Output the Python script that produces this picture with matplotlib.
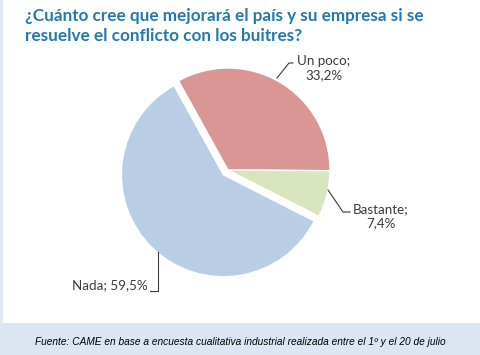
import numpy as np
import matplotlib.pyplot as plt
from matplotlib.patches import Rectangle

# Data
labels = ['Un poco', 'Bastante', 'Nada']
values = [33.2, 7.4, 59.5]
value_text = ['33,2%', '7,4%', '59,5%']
colors = ['#D99694', '#D7E4BD', '#B9CDE5']
explode_frac = [0, 0, 0.065]

title = '¿Cuánto cree que mejorará el país y su empresa si se\nresuelve el conflicto con los buitres?'
source = 'Fuente: CAME en base a encuesta cualitativa industrial realizada entre el 1º y el 20 de julio'

fig = plt.figure(figsize=(4.8, 3.55), dpi=100)
ax = fig.add_axes([0, 0, 1, 1])

# Footer band
ax.add_patch(Rectangle((0, 0), 480, 32, facecolor='#DCE6F2', edgecolor='none', zorder=0))
ax.plot([0.5, 0.5], [32, 355], color='#DCE6F2', lw=2, zorder=0)

# Pie (explode is in data units, so scale by radius)
cx, cy, r = 228, 185, 102
wedges, _ = ax.pie(values, colors=colors, explode=[e * r for e in explode_frac],
                   startangle=119, counterclock=False, radius=r, center=(cx, cy),
                   frame=True, wedgeprops=dict(edgecolor='white', linewidth=1.0))
ax.set_xlim(0, 480)
ax.set_ylim(0, 355)
ax.set_aspect('equal')
ax.axis('off')

label_col = '#3a3a3a'
fs = 9.6
lfont = 'Lato'

# Un poco label
ax.plot([277, 289, 293], [355 - 78, 355 - 63, 355 - 63], color=label_col, lw=0.8)
ax.text(324, 355 - 68, labels[0] + ';\n' + value_text[0], ha='center', va='center',
        fontsize=fs, color=label_col, family=lfont, linespacing=1.15)

# Bastante label
ax.plot([328, 343, 350], [355 - 190, 355 - 212, 355 - 212], color=label_col, lw=0.8)
ax.text(381, 355 - 216, labels[1] + ';\n' + value_text[1], ha='center', va='center',
        fontsize=fs, color=label_col, family=lfont, linespacing=1.15)

# Nada label
ax.plot([158, 158, 150], [355 - 252, 355 - 291, 355 - 291], color=label_col, lw=0.8)
ax.text(148, 355 - 285, labels[2] + '; ' + value_text[2], ha='right', va='center',
        fontsize=fs, color=label_col, family=lfont)

# Title
ax.text(25, 355 - 8, title, ha='left', va='top', fontsize=12.3, fontweight='bold',
        color='#2478AE', family='Lato', linespacing=1.3)

# Source
ax.text(240, 13, source, ha='center', va='center', fontsize=7.3, style='italic',
        color='black', family='Liberation Sans')

fig.savefig('out.png', dpi=100)
